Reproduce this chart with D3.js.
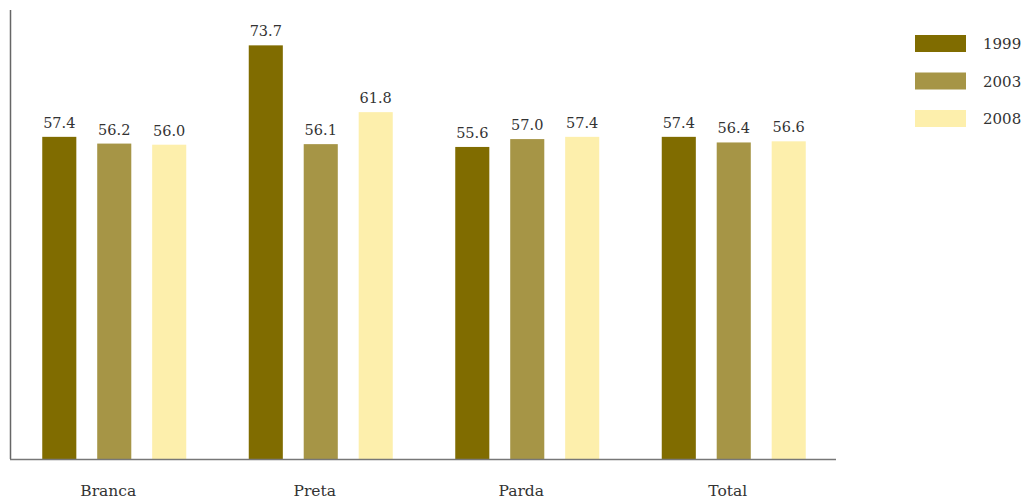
<!DOCTYPE html>
<html>
<head>
<meta charset="utf-8">
<script src="https://cdn.jsdelivr.net/npm/d3@7"></script>
<style>
  body { margin: 0; background: #fff; }
  svg text { font-family: "DejaVu Serif", serif; fill: #333; }
</style>
</head>
<body>
<svg id="chart" width="1025" height="500"></svg>
<script>
const categories = ["Branca", "Preta", "Parda", "Total"];
const years = ["1999", "2003", "2008"];
const values1999 = [57.4, 73.7, 55.6, 57.4];
const values2003 = [56.2, 56.1, 57.0, 56.4];
const values2008 = [56.0, 61.8, 57.4, 56.6];
const colors = ["#806c00", "#a69546", "#fdefac"];

const seriesValues = [values1999, values2003, values2008];
const data = categories.map((c, i) => ({
  category: c,
  bars: years.map((y, j) => ({ year: y, value: seriesValues[j][i] }))
}));

const svg = d3.select("#chart");
const plotLeft = 10, plotRight = 836, plotTop = 10, plotBottom = 459;

const x0 = d3.scaleBand().domain(categories).range([plotLeft, plotRight]);
const x1 = d3.scaleBand().domain(years).range([0, 144]).paddingInner(0.38);
const y = d3.scaleLinear().domain([0, 80]).range([plotBottom, plotTop]);
const color = d3.scaleOrdinal().domain(years).range(colors);

const groupOffset = (x0.bandwidth() - 144) / 2 + 1;

const groups = svg.append("g").selectAll("g")
  .data(data).join("g")
  .attr("transform", d => `translate(${x0(d.category) + groupOffset},0)`);

groups.selectAll("rect")
  .data(d => d.bars).join("rect")
  .attr("x", d => x1(d.year))
  .attr("width", x1.bandwidth())
  .attr("y", d => y(d.value))
  .attr("height", d => y(0) - y(d.value))
  .attr("fill", d => color(d.year));

groups.selectAll("text.val")
  .data(d => d.bars).join("text")
  .attr("class", "val")
  .attr("x", d => x1(d.year) + x1.bandwidth() / 2)
  .attr("y", d => y(d.value) - 9)
  .attr("text-anchor", "middle")
  .attr("font-size", 14.5)
  .text(d => d.value.toFixed(1));

// axes
svg.append("line")
  .attr("x1", plotLeft + 0.5).attr("x2", plotLeft + 0.5)
  .attr("y1", plotTop).attr("y2", plotBottom)
  .attr("stroke", "#666").attr("stroke-width", 1.5);
svg.append("line")
  .attr("x1", plotLeft).attr("x2", plotRight)
  .attr("y1", plotBottom + 0.5).attr("y2", plotBottom + 0.5)
  .attr("stroke", "#777").attr("stroke-width", 1.5);

// category labels
svg.append("g").selectAll("text")
  .data(categories).join("text")
  .attr("x", d => x0(d) + x0.bandwidth() / 2 - 5)
  .attr("y", 496)
  .attr("text-anchor", "middle")
  .attr("font-size", 15.5)
  .text(d => d);

// legend
const legend = svg.append("g").selectAll("g")
  .data(years).join("g")
  .attr("transform", (d, i) => `translate(915,${35 + i * 37.5})`);
legend.append("rect")
  .attr("width", 51).attr("height", 17)
  .attr("fill", d => color(d));
legend.append("text")
  .attr("x", 68).attr("y", 14)
  .attr("font-size", 15)
  .text(d => d);
</script>
</body>
</html>
